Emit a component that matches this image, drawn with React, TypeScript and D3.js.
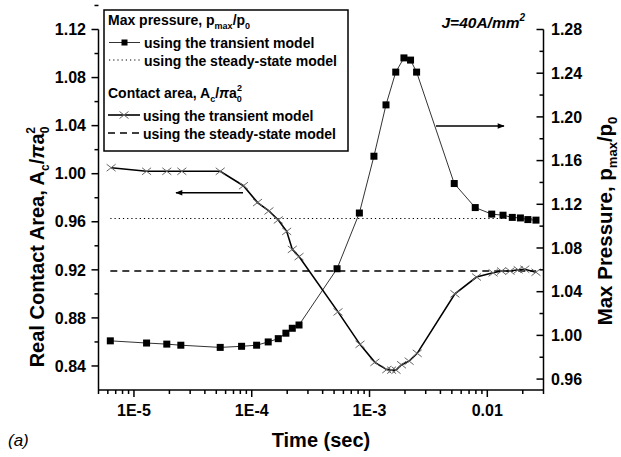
import React from "react";
import * as d3 from "d3";

// ---- data ----
const pTime = [6.3e-6, 1.28e-5, 1.9e-5, 2.5e-5, 5.4e-5, 8.2e-5, 1.1e-4, 1.38e-4, 1.68e-4, 1.95e-4, 2.21e-4, 2.52e-4, 5.3e-4, 8.2e-4, 1.09e-3, 1.38e-3, 1.67e-3, 1.96e-3, 2.23e-3, 2.51e-3, 5.24e-3, 7.9e-3, 1.09e-2, 1.36e-2, 1.63e-2, 1.91e-2, 2.21e-2, 2.59e-2];
const pValue = [0.995, 0.993, 0.992, 0.991, 0.989, 0.990, 0.991, 0.994, 0.997, 1.002, 1.0065, 1.0095, 1.061, 1.112, 1.164, 1.211, 1.241, 1.254, 1.252, 1.241, 1.139, 1.117, 1.111, 1.110, 1.108, 1.1075, 1.106, 1.1055];
const aTime = [6.4e-6, 1.28e-5, 1.9e-5, 2.55e-5, 5.4e-5, 8.5e-5, 1.12e-4, 1.4e-4, 1.68e-4, 1.98e-4, 2.21e-4, 2.52e-4, 5.4e-4, 8.3e-4, 1.11e-3, 1.4e-3, 1.54e-3, 1.68e-3, 1.87e-3, 2.17e-3, 2.54e-3, 5.31e-3, 8.1e-3, 1.12e-2, 1.32e-2, 1.56e-2, 1.83e-2, 2.08e-2, 2.59e-2];
const aValue = [1.005, 1.002, 1.002, 1.002, 1.002, 0.990, 0.976, 0.969, 0.9615, 0.952, 0.937, 0.931, 0.885, 0.858, 0.843, 0.837, 0.8365, 0.8365, 0.841, 0.844, 0.8505, 0.900, 0.914, 0.9175, 0.919, 0.919, 0.920, 0.9205, 0.918];
const pSteady = 1.107;
const aSteady = 0.919;
const steadyRange = [6.3e-6, 2.6e-2];
const xMajor = [1e-5, 1e-4, 1e-3, 1e-2];
const xMajorLabels = ["1E-5", "1E-4", "1E-3", "0.01"];
const leftMajor = [0.84, 0.88, 0.92, 0.96, 1.0, 1.04, 1.08, 1.12];
const rightMajor = [0.96, 1.0, 1.04, 1.08, 1.12, 1.16, 1.2, 1.24, 1.28];

const FONT = "'Liberation Sans', Arial, Helvetica, sans-serif";

export default function App() {
  const L = 98.5, R = 543.5, T = 29.5, B = 390;
  const x = d3.scaleLog().domain([5e-6, 0.03]).range([L, R]);
  const yL = d3.scaleLinear().domain([0.82, 1.12]).range([B, T]);
  const yR = d3.scaleLinear().domain([0.95, 1.28]).range([B, T]);

  const xMinor: number[] = [];
  [1e-6, 1e-5, 1e-4, 1e-3, 1e-2].forEach((d) => {
    for (let k = 2; k <= 9; k++) {
      const v = d * k;
      if (v >= 5e-6 * 0.999 && v <= 0.03 * 1.001) xMinor.push(v);
    }
  });
  const leftMinor = d3.range(0, 8).map((i) => 0.86 + i * 0.04);
  const rightMinor = d3.range(0, 8).map((i) => 0.98 + i * 0.04);

  const pLine = d3.line<number>().x((_, i) => x(pTime[i])).y((d) => yR(d));
  const aLine = d3.line<number>().x((_, i) => x(aTime[i])).y((d) => yL(d));

  const sq = 7;
  const crossPath = (cx: number, cy: number) =>
    `M${cx - 4.5},${cy - 3.5}L${cx + 4.5},${cy + 3.5}M${cx - 4.5},${cy + 3.5}L${cx + 4.5},${cy - 3.5}`;

  return (
    <svg width={621} height={457} style={{ position: "absolute", left: 0, top: 0, background: "#fff" }} fontFamily={FONT}>
      <defs>
        <marker id="ah" viewBox="0 0 10 10" refX="9" refY="5" markerWidth="8" markerHeight="7" orient="auto-start-reverse" markerUnits="userSpaceOnUse">
          <path d="M0,1L10,5L0,9Z" fill="#000" />
        </marker>
      </defs>
      <rect x={0} y={0} width={621} height={457} fill="#fff" />

      {/* steady lines */}
      <line x1={x(steadyRange[0])} x2={x(steadyRange[1])} y1={yR(pSteady)} y2={yR(pSteady)} stroke="#000" strokeWidth={1.2} strokeDasharray="1.2,3" />
      <line x1={x(steadyRange[0])} x2={x(steadyRange[1])} y1={yL(aSteady)} y2={yL(aSteady)} stroke="#000" strokeWidth={1.6} strokeDasharray="7,5" />

      {/* pressure transient */}
      <path d={pLine(pValue) || ""} fill="none" stroke="#333" strokeWidth={1} />
      {pValue.map((v, i) => (
        <rect key={"s" + i} x={x(pTime[i]) - sq / 2} y={yR(v) - sq / 2} width={sq} height={sq} fill="#000" />
      ))}

      {/* area transient */}
      <path d={aLine(aValue) || ""} fill="none" stroke="#000" strokeWidth={1.6} />
      {aValue.map((v, i) => (
        <path key={"c" + i} d={crossPath(x(aTime[i]), yL(v))} stroke="#666" strokeWidth={1} fill="none" />
      ))}

      {/* arrows */}
      <line x1={243} x2={176} y1={192.7} y2={192.7} stroke="#000" strokeWidth={1.4} markerEnd="url(#ah)" />
      <line x1={436} x2={504} y1={126} y2={126} stroke="#000" strokeWidth={1.4} markerEnd="url(#ah)" />

      {/* axes */}
      <g stroke="#000" strokeWidth={1.5}>
        <line x1={L} x2={R} y1={B} y2={B} />
        <line x1={L} x2={L} y1={T} y2={B} />
        <line x1={R} x2={R} y1={T} y2={B} />
        {xMajor.map((v) => <line key={"xm" + v} x1={x(v)} x2={x(v)} y1={B} y2={B + 7} />)}
        {xMinor.map((v) => <line key={"xn" + v} x1={x(v)} x2={x(v)} y1={B} y2={B + 4} />)}
        {leftMajor.map((v) => <line key={"lm" + v} x1={L} x2={L - 7} y1={yL(v)} y2={yL(v)} />)}
        {leftMinor.map((v) => <line key={"ln" + v} x1={L} x2={L - 4} y1={yL(v)} y2={yL(v)} />)}
        {rightMajor.map((v) => <line key={"rm" + v} x1={R} x2={R - 7} y1={yR(v)} y2={yR(v)} />)}
        {rightMinor.map((v) => <line key={"rn" + v} x1={R} x2={R - 4} y1={yR(v)} y2={yR(v)} />)}
      </g>

      <g fontWeight="bold" fontSize={16} fill="#000">
        {xMajor.map((v, i) => (
          <text key={"xl" + v} x={x(v)} y={416} textAnchor="middle">{xMajorLabels[i]}</text>
        ))}
        {leftMajor.map((v) => (
          <text key={"ll" + v} x={86} y={yL(v) + 5.7} textAnchor="end">{d3.format(".2f")(v)}</text>
        ))}
        {rightMajor.map((v) => (
          <text key={"rl" + v} x={551} y={yR(v) + 5.7} textAnchor="start">{d3.format(".2f")(v)}</text>
        ))}
      </g>

      {/* axis titles */}
      <text x={321} y={447} textAnchor="middle" fontWeight="bold" fontSize={20}>Time (sec)</text>
      <text transform="translate(44,247) rotate(-90)" textAnchor="middle" fontWeight="bold" fontSize={20}>
        Real Contact Area, A<tspan fontSize={12} dy={5}>c</tspan><tspan dy={-5}>/</tspan><tspan fontStyle="italic">π</tspan>a<tspan fontSize={12} dy={5}>0</tspan><tspan fontSize={12} dx={-7} dy={-14}>2</tspan>
      </text>
      <text transform="translate(612,221) rotate(-90)" textAnchor="middle" fontWeight="bold" fontSize={20.5}>
        Max Pressure, p<tspan fontSize={13} dy={5}>max</tspan><tspan dy={-5}>/p</tspan><tspan fontSize={13} dy={5}>0</tspan>
      </text>

      <text x={441.5} y={27.5} fontWeight="bold" fontStyle="italic" fontSize={15.5}>J=40A/mm<tspan fontSize={10} dy={-7}>2</tspan></text>
      <text x={8} y={446} fontStyle="italic" fontSize={17}>(a)</text>

      {/* legend */}
      <rect x={104} y={10} width={244} height={141} fill="#fff" stroke="#000" strokeWidth={1.5} />
      <g fontWeight="bold" fontSize={14}>
        <text x={108} y={25}>Max pressure, p<tspan fontSize={9} dy={4}>max</tspan><tspan dy={-4}>/p</tspan><tspan fontSize={9} dy={4}>0</tspan></text>
        <line x1={109} x2={140} y1={42.5} y2={42.5} stroke="#333" strokeWidth={1} />
        <rect x={124.5 - 3} y={42.5 - 3} width={6} height={6} fill="#000" />
        <text x={144} y={48}>using the transient model</text>
        <line x1={109} x2={140} y1={60} y2={60} stroke="#000" strokeWidth={1.2} strokeDasharray="1.2,3" />
        <text x={144} y={65.5}>using the steady-state model</text>
        <text x={108} y={98}>Contact area, A<tspan fontSize={9} dy={4}>c</tspan><tspan dy={-4}>/</tspan><tspan fontStyle="italic">π</tspan>a<tspan fontSize={9} dy={4}>0</tspan><tspan fontSize={9} dx={-5} dy={-11}>2</tspan></text>
        <line x1={108} x2={140} y1={115} y2={115} stroke="#000" strokeWidth={1.6} />
        <path d={crossPath(124, 115)} stroke="#666" strokeWidth={1} fill="none" />
        <text x={143} y={120.5}>using the transient model</text>
        <line x1={108} x2={140} y1={133} y2={133} stroke="#000" strokeWidth={1.6} strokeDasharray="7,5" />
        <text x={143} y={138.5}>using the steady-state model</text>
      </g>
    </svg>
  );
}
